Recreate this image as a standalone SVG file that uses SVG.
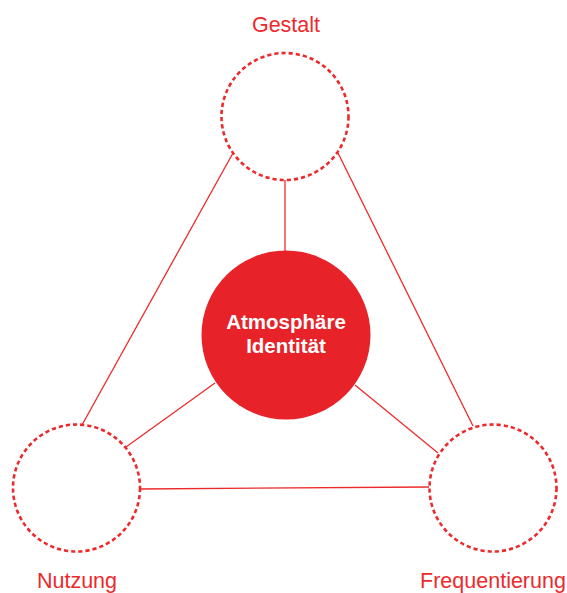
<svg xmlns="http://www.w3.org/2000/svg" width="567" height="593" viewBox="0 0 567 593">
<style>
.ring{fill:#fff;stroke:#ec2a2c;stroke-width:2.6;stroke-dasharray:4.2 3}
.link{stroke:#ec2a2c;stroke-width:1.3;fill:none}
.lbl{font-family:"Liberation Sans",Arial,sans-serif;fill:#ec2a2c;text-anchor:middle;font-size:21.5px}
.core{font-family:"Liberation Sans",Arial,sans-serif;fill:#fff;font-weight:bold;text-anchor:middle;font-size:20.5px}
</style>
<rect width="567" height="593" fill="#fff"/>
<g id="connectors">
<line class="link" x1="285" y1="180" x2="285" y2="251"/>
<line class="link" x1="233" y1="153" x2="82" y2="425"/>
<line class="link" x1="338" y1="153" x2="473" y2="426"/>
<line class="link" x1="215" y1="383" x2="126" y2="447"/>
<line class="link" x1="355" y1="385" x2="438" y2="453"/>
<line class="link" x1="140" y1="489" x2="429" y2="487"/>
</g>
<g id="gestalt">
<circle class="ring" cx="285" cy="116.5" r="63.5"/>
<text class="lbl" x="286" y="31.5">Gestalt</text>
</g>
<g id="core">
<circle cx="286" cy="335" r="84.5" fill="#e82229"/>
<text class="core" x="286" y="328.5">Atmosphäre</text>
<text class="core" x="286" y="353">Identität</text>
</g>
<g id="nutzung">
<circle class="ring" cx="76.5" cy="488" r="63.5"/>
<text class="lbl" x="77" y="587.5">Nutzung</text>
</g>
<g id="frequentierung">
<circle class="ring" cx="493" cy="488" r="63.5"/>
<text class="lbl" x="493" y="587.5">Frequentierung</text>
</g>
</svg>
